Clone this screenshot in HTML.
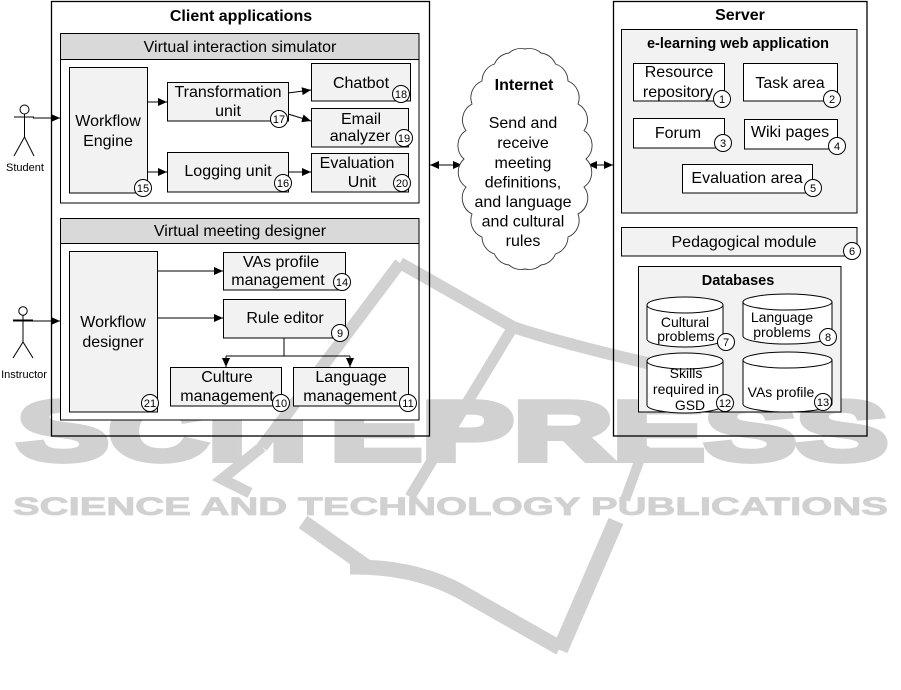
<!DOCTYPE html>
<html><head><meta charset="utf-8"><style>
html,body{margin:0;padding:0;background:#fff;}
svg{display:block;}
text{font-family:"Liberation Sans",Arial,sans-serif;fill:#000;}
</style></head><body>
<svg width="901" height="690" viewBox="0 0 901 690" xmlns="http://www.w3.org/2000/svg">
<defs>
<marker id="ah" markerWidth="9" markerHeight="8" refX="9" refY="4" orient="auto-start-reverse" markerUnits="userSpaceOnUse"><path d="M0,0 L9,4 L0,8 z" fill="#000"/></marker>
</defs>
<rect width="901" height="690" fill="#fff"/>

<!-- watermark letters -->
<text x="17" y="460" font-size="84" font-weight="bold" textLength="871" lengthAdjust="spacingAndGlyphs" style="fill:#d1d1d1;stroke:#d1d1d1;stroke-width:6">SCITEPRESS</text>
<text x="13" y="515" font-size="25" font-weight="bold" textLength="875" lengthAdjust="spacingAndGlyphs" style="fill:#d1d1d1;stroke:#d1d1d1;stroke-width:0.8">SCIENCE AND TECHNOLOGY PUBLICATIONS</text>

<!-- opaque panel fills -->
<rect x="60" y="33" width="359" height="170" fill="#fff"/>
<rect x="60" y="33" width="359" height="26" fill="#d9d9d9"/>
<rect x="60" y="218" width="359" height="202" fill="#fff"/>
<rect x="60" y="218" width="359" height="25" fill="#d9d9d9"/>
<rect x="621" y="29" width="236" height="184" fill="#f2f2f2"/>
<rect x="638" y="266" width="203" height="146" fill="#f2f2f2"/>

<!-- watermark logo strokes -->
<g fill="none" stroke="#d1d1d1" stroke-linecap="butt" stroke-linejoin="miter">
<path d="M262,447 L400,263" stroke-width="12"/>
<path d="M400,263 L513,327 Q560,343 660,366" stroke-width="12"/>
<path d="M513,327 L410,497" stroke-width="11"/>
<path d="M262,447 L222,479 L250,493" stroke-width="11"/>
<path d="M645,445 L625,500" stroke-width="10"/>
<path d="M303,522 L367,567" stroke-width="15"/>
<path d="M350,567 Q420,566 470,597 L560,648" stroke-width="15"/>
<path d="M560,650 L616,521" stroke-width="16"/>
</g>

<!-- outer boxes -->
<rect x="51.5" y="1.5" width="378" height="434.5" fill="none" stroke="#000" stroke-width="1.3"/>
<rect x="613.5" y="1.5" width="253.5" height="434.5" fill="none" stroke="#000" stroke-width="1.3"/>
<text x="241" y="21" font-size="16" font-weight="bold" text-anchor="middle">Client applications</text>
<text x="740" y="20" font-size="16" font-weight="bold" text-anchor="middle">Server</text>

<!-- panel borders -->
<g fill="none" stroke="#000" stroke-width="1">
<rect x="60.5" y="33.5" width="358.5" height="169.5"/>
<line x1="60.5" y1="59.5" x2="419" y2="59.5"/>
<rect x="60.5" y="218.5" width="358.5" height="201.5"/>
<line x1="60.5" y1="243.5" x2="419" y2="243.5"/>
<rect x="621.5" y="29.5" width="235.5" height="183.5"/>
<rect x="638.5" y="266.5" width="202.5" height="145.5"/>
</g>
<text x="240" y="52" font-size="16" text-anchor="middle">Virtual interaction simulator</text>
<text x="240" y="236" font-size="16" text-anchor="middle">Virtual meeting designer</text>
<text x="738" y="48" font-size="14.5" font-weight="bold" text-anchor="middle">e-learning web application</text>
<text x="738" y="285" font-size="14.5" font-weight="bold" text-anchor="middle">Databases</text>

<!-- boxes -->
<g fill="#f2f2f2" stroke="#000" stroke-width="1">
<rect x="69.5" y="67.5" width="78" height="125.5"/>
<rect x="167.5" y="82.5" width="121" height="38.5"/>
<rect x="311.5" y="63.5" width="99" height="37.5"/>
<rect x="311.5" y="108.5" width="97" height="38.5"/>
<rect x="167.5" y="152.5" width="121" height="39.5"/>
<rect x="311.5" y="153.5" width="97" height="38.5"/>
<rect x="69.5" y="251.5" width="88" height="160.5"/>
<rect x="223.5" y="252.5" width="122" height="37.5"/>
<rect x="223.5" y="299.5" width="122" height="38.5"/>
<rect x="170.5" y="367.5" width="111" height="38.5"/>
<rect x="293.5" y="367.5" width="115" height="38.5"/>
<rect x="621.5" y="227.5" width="235.5" height="28.5"/>
</g>
<g fill="#fff" stroke="#000" stroke-width="1">
<rect x="633.5" y="63.5" width="91" height="37.5"/>
<rect x="743.5" y="63.5" width="94" height="37.5"/>
<rect x="633.5" y="118.5" width="91" height="29.5"/>
<rect x="744.5" y="119.5" width="93" height="29.5"/>
<rect x="682.5" y="164.5" width="130" height="28.5"/>
</g>

<!-- cylinders -->
<g fill="#fff" stroke="#000" stroke-width="1">
<path d="M647,305 L647,339 A38,8 0 0,0 723,339 L723,305 Z"/>
<ellipse cx="685" cy="305" rx="38" ry="8"/>
<path d="M743,302 L743,336 A44.5,8 0 0,0 832,336 L832,302 Z"/>
<ellipse cx="787.5" cy="302" rx="44.5" ry="8"/>
<path d="M647,361 L647,405 A38,8 0 0,0 723,405 L723,361 Z"/>
<ellipse cx="685" cy="361" rx="38" ry="8"/>
<path d="M743,360 L743,404 A44.5,8 0 0,0 832,404 L832,360 Z"/>
<ellipse cx="787.5" cy="360" rx="44.5" ry="8"/>
</g>

<!-- box texts -->
<g font-size="16" text-anchor="middle">
<text x="108" y="126">Workflow</text>
<text x="108" y="146">Engine</text>
<text x="228" y="97">Transformation</text>
<text x="228" y="116">unit</text>
<text x="361" y="88">Chatbot</text>
<text x="361" y="124">Email</text>
<text x="360" y="141">analyzer</text>
<text x="228" y="176">Logging unit</text>
<text x="357" y="168">Evaluation</text>
<text x="362" y="187">Unit</text>
<text x="113" y="327">Workflow</text>
<text x="113" y="347">designer</text>
<text x="281" y="267">VAs profile</text>
<text x="278" y="285">management</text>
<text x="285" y="323">Rule editor</text>
<text x="227" y="382">Culture</text>
<text x="227" y="401">management</text>
<text x="351" y="382">Language</text>
<text x="350" y="401">management</text>
<text x="679" y="77">Resource</text>
<text x="678" y="97">repository</text>
<text x="790" y="88">Task area</text>
<text x="678" y="138">Forum</text>
<text x="790" y="137">Wiki pages</text>
<text x="747" y="183">Evaluation area</text>
<text x="744" y="247">Pedagogical module</text>
</g>
<g font-size="14" text-anchor="middle">
<text x="685" y="327">Cultural</text>
<text x="686" y="341">problems</text>
<text x="782" y="322">Language</text>
<text x="782" y="337">problems</text>
<text x="686" y="378">Skills</text>
<text x="686" y="394">required in</text>
<text x="690" y="410">GSD</text>
<text x="781" y="397">VAs profile</text>
</g>

<!-- connectors -->
<g stroke="#000" stroke-width="1" fill="none">
<line x1="147" y1="102" x2="167" y2="102" marker-end="url(#ah)"/>
<line x1="147" y1="172" x2="167" y2="172" marker-end="url(#ah)"/>
<line x1="288" y1="93" x2="311" y2="90" marker-end="url(#ah)"/>
<line x1="288" y1="114" x2="311" y2="121" marker-end="url(#ah)"/>
<line x1="288" y1="172" x2="311" y2="172" marker-end="url(#ah)"/>
<line x1="157" y1="271" x2="223" y2="271" marker-end="url(#ah)"/>
<line x1="157" y1="318" x2="223" y2="318" marker-end="url(#ah)"/>
<line x1="284" y1="338" x2="284" y2="356"/>
<line x1="226" y1="356" x2="350" y2="356"/>
<line x1="226" y1="356" x2="226" y2="367" marker-end="url(#ah)"/>
<line x1="350" y1="356" x2="350" y2="367" marker-end="url(#ah)"/>
<line x1="33" y1="118" x2="60" y2="118" marker-end="url(#ah)"/>
<line x1="13" y1="321" x2="60" y2="321" marker-end="url(#ah)"/>
<line x1="430" y1="165" x2="462" y2="165" marker-start="url(#ah)" marker-end="url(#ah)"/>
<line x1="588" y1="165" x2="613" y2="165" marker-start="url(#ah)" marker-end="url(#ah)"/>
</g>

<!-- actors -->
<g stroke="#000" stroke-width="1" fill="none">
<circle cx="24.5" cy="109.5" r="4.5" fill="#fff"/>
<line x1="24.5" y1="114" x2="24.5" y2="137"/>
<line x1="14" y1="117" x2="34" y2="117"/>
<line x1="24.5" y1="137" x2="14" y2="156"/>
<line x1="24.5" y1="137" x2="34" y2="156"/>
<circle cx="23" cy="311" r="4.2" fill="#fff"/>
<line x1="23" y1="315" x2="23" y2="342"/>
<line x1="13" y1="320" x2="33" y2="320"/>
<line x1="23" y1="342" x2="13" y2="358"/>
<line x1="23" y1="342" x2="33" y2="358"/>
</g>
<text x="25" y="171" font-size="11" text-anchor="middle">Student</text>
<text x="24" y="378" font-size="11" text-anchor="middle">Instructor</text>

<!-- cloud -->
<path d="M586,159 A18,18 0 0,1 584,187 A18,18 0 0,1 578,214 A18,18 0 0,1 568,237 A18,18 0 0,1 555.5,254 A18,18 0 0,1 541,265 A18,18 0 0,1 525,269 A18,18 0 0,1 509,265 A18,18 0 0,1 494.5,254 A18,18 0 0,1 482,237 A18,18 0 0,1 472,214 A18,18 0 0,1 466,187 A18,18 0 0,1 464,159 A18,18 0 0,1 466,130.5 A18,18 0 0,1 472,104 A18,18 0 0,1 482,81 A18,18 0 0,1 494.5,64 A18,18 0 0,1 509,53 A18,18 0 0,1 525,49 A18,18 0 0,1 541,53 A18,18 0 0,1 555.5,64 A18,18 0 0,1 568,81 A18,18 0 0,1 578,104 A18,18 0 0,1 584,130.5 A18,18 0 0,1 586,159 Z" fill="#fff" stroke="#333" stroke-width="0.9"/>
<text x="524" y="90" font-size="16" font-weight="bold" text-anchor="middle">Internet</text>
<g font-size="16" text-anchor="middle">
<text x="523" y="128">Send and</text>
<text x="523" y="148">receive</text>
<text x="523" y="168">meeting</text>
<text x="523" y="187.5">definitions,</text>
<text x="523" y="207">and language</text>
<text x="523" y="226.5">and cultural</text>
<text x="523" y="246">rules</text>
</g>

<!-- numbered circles -->
<g fill="#fff" stroke="#000" stroke-width="1">
<circle cx="143" cy="188" r="8.5"/>
<circle cx="279" cy="119" r="8.5"/>
<circle cx="401" cy="94" r="8.5"/>
<circle cx="404" cy="138" r="8.5"/>
<circle cx="283" cy="183" r="8.5"/>
<circle cx="402" cy="183" r="8.5"/>
<circle cx="150" cy="403" r="8.5"/>
<circle cx="342" cy="282" r="8.5"/>
<circle cx="340" cy="333" r="8.5"/>
<circle cx="281" cy="403" r="8.5"/>
<circle cx="408" cy="403" r="8.5"/>
<circle cx="722" cy="99" r="8.5"/>
<circle cx="832" cy="99" r="8.5"/>
<circle cx="723" cy="143" r="8.5"/>
<circle cx="837" cy="146" r="8.5"/>
<circle cx="813" cy="188" r="8.5"/>
<circle cx="852" cy="251" r="8.5"/>
<circle cx="726" cy="342" r="8.5"/>
<circle cx="828" cy="337" r="8.5"/>
<circle cx="725" cy="403" r="8.5"/>
<circle cx="823" cy="402" r="8.5"/>
</g>
<g font-size="11" text-anchor="middle">
<text x="143" y="192">15</text>
<text x="279" y="123">17</text>
<text x="401" y="98">18</text>
<text x="404" y="142">19</text>
<text x="283" y="187">16</text>
<text x="402" y="187">20</text>
<text x="150" y="407">21</text>
<text x="342" y="286">14</text>
<text x="340" y="337">9</text>
<text x="281" y="407">10</text>
<text x="408" y="407">11</text>
<text x="722" y="103">1</text>
<text x="832" y="103">2</text>
<text x="723" y="147">3</text>
<text x="837" y="150">4</text>
<text x="813" y="192">5</text>
<text x="852" y="255">6</text>
<text x="726" y="346">7</text>
<text x="828" y="341">8</text>
<text x="725" y="407">12</text>
<text x="823" y="406">13</text>
</g>
</svg>
</body></html>
